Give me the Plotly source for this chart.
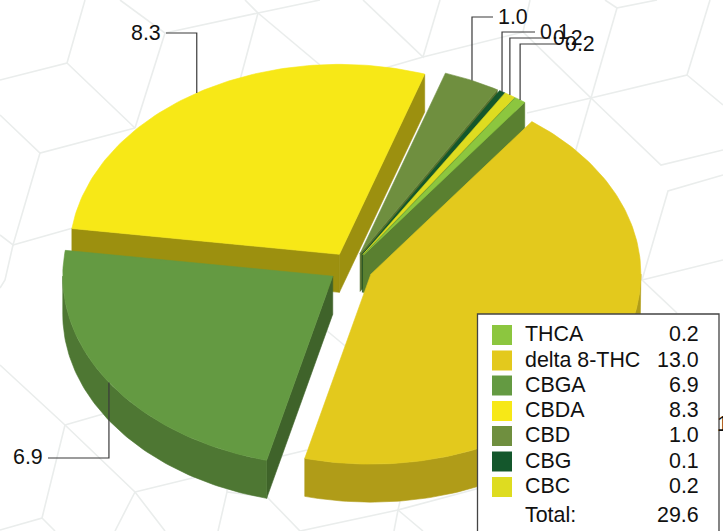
import math
import plotly.graph_objects as go

# ---- data ----
names = ["THCA", "delta 8-THC", "CBGA", "CBDA", "CBD", "CBG", "CBC"]
values = [0.2, 13.0, 6.9, 8.3, 1.0, 0.1, 0.2]
total_label = 29.6
value_labels = ["0.2", "13.0", "6.9", "8.3", "1.0", "0.1", "0.2"]

top_colors = ["#8CC63F", "#E3C91D", "#649A42", "#F7E817", "#6F8F3F", "#14572C", "#DEDC20"]
side_colors = ["#5A8030", "#B09C18", "#4E7733", "#9C900F", "#5A7030", "#0F4020", "#9C9A16"]
cut_colors = ["#5A8030", "#B09C18", "#3F632A", "#9C900F", "#56702E", "#0F4020", "#5A8030"]

W, H = 723, 531
CX, CY = 351.0, 267.5
RX, RY = 270.0, 190.0
DEPTH = 38.0
EXPLODE = 22.0
START = 53.4   # ellipse angle where delta 8-THC starts, going clockwise

# ---- geometry derived from the values ----
sweep_total = sum(values)
walk = [1, 2, 3, 4, 5, 6, 0]
slices = {}
a = START
for i in walk:
    s = values[i] / sweep_total * 360.0
    hi, lo = a, a - s
    mid = (hi + lo) / 2
    mr = math.radians(mid)
    ox = CX + EXPLODE * math.cos(mr)
    oy = CY - EXPLODE * 0.7037 * math.sin(mr)
    slices[i] = (lo, hi, mid, ox, oy)
    a = lo


def pt(ox, oy, t, dz=0.0):
    r = math.radians(t)
    return ox + RX * math.cos(r), oy - RY * math.sin(r) + dz


def arc(ox, oy, t0, t1, dz=0.0, step=1.0):
    n = max(2, int(abs(t1 - t0) / step) + 1)
    return [pt(ox, oy, t0 + (t1 - t0) * k / (n - 1), dz) for k in range(n)]


fig = go.Figure()


def poly(points, color, line=None, name=None):
    xs = [p[0] for p in points] + [points[0][0]]
    ys = [p[1] for p in points] + [points[0][1]]
    fig.add_trace(go.Scatter(
        x=xs, y=ys, mode="lines", fill="toself", fillcolor=color,
        line=dict(color=line or color, width=0.6),
        hoverinfo="skip" if name is None else "text", text=name, showlegend=False))


# background lattice (decorative)
bg_segments = [
    [(85, 0), (67, 63), (0, 80)], [(67, 63), (135, 128), (40, 153), (0, 115)],
    [(135, 128), (165, 33), (120, 0)], [(165, 33), (258, 13), (245, 0)],
    [(258, 13), (240, 80)], [(258, 13), (320, 65)], [(258, 13), (320, 0)],
    [(40, 153), (13, 245), (0, 235)], [(13, 245), (80, 226)], [(13, 245), (5, 280), (0, 288)],
    [(0, 365), (65, 425), (135, 492), (165, 531)], [(65, 425), (110, 412)],
    [(65, 425), (42, 518), (0, 530)], [(42, 518), (55, 531)],
    [(135, 492), (115, 531)], [(135, 492), (307, 450)],
    [(227, 470), (227, 492), (218, 531)], [(227, 492), (267, 497), (300, 531)],
    [(363, 0), (423, 57), (440, 0)], [(423, 57), (385, 68)], [(423, 57), (523, 32), (530, 0)],
    [(523, 32), (591, 98), (617, 8), (657, 0)], [(617, 8), (605, 0)],
    [(591, 98), (687, 75), (710, 0)], [(687, 75), (723, 105)],
    [(591, 98), (527, 113)], [(591, 98), (570, 170)],
    [(591, 98), (661, 165), (723, 150)],
    [(723, 175), (668, 191), (642, 280), (723, 260)], [(642, 280), (677, 313)],
    [(320, 325), (350, 350)],
    [(480, 488), (398, 510), (394, 531)], [(398, 510), (405, 480)], [(398, 510), (423, 531)],
    [(398, 510), (300, 531)],
]
bx, by = [], []
for seg in bg_segments:
    for p in seg:
        bx.append(p[0]); by.append(p[1])
    bx.append(None); by.append(None)
fig.add_trace(go.Scatter(x=bx, y=by, mode="lines", line=dict(color="#EAEDEC", width=1.6),
                         hoverinfo="skip", showlegend=False))

# painter's order: back slices first
draw_order = [4, 5, 6, 0, 3, 1, 2]
for i in draw_order:
    lo, hi, mid, ox, oy = slices[i]
    ap = (ox, oy)
    def radial(t):
        e = pt(ox, oy, t)
        return [ap, e, (e[0], e[1] + DEPTH), (ap[0], ap[1] + DEPTH)]
    # lower-angle edge faces the viewer when it points up and to the right
    if math.sin(math.radians(lo)) > 0 and math.cos(math.radians(lo)) > 0:
        poly(radial(lo), cut_colors[i])
    # upper-angle edge faces the viewer when it points to the left
    if math.cos(math.radians(hi)) < 0:
        poly(radial(hi), cut_colors[i])
    ra, rb = max(lo, -180), min(hi, 0)
    if lo < 0 and rb > ra:
        pts = arc(ox, oy, ra, rb) + arc(ox, oy, rb, ra, DEPTH)
        poly(pts, side_colors[i])
    poly([ap] + arc(ox, oy, lo, hi), top_colors[i], name=f"{names[i]}: {value_labels[i]}")

annotations = []


def label(x, y, text, size=21.4, anchor="left", color="#111111"):
    annotations.append(dict(x=x, y=y, xref="x", yref="y", text=text, showarrow=False,
                            xanchor=anchor, yanchor="middle",
                            font=dict(family="Liberation Sans, Arial", size=size, color=color),
                            borderpad=0, borderwidth=0))


leader_layout = {
    3: dict(elbow_y=33, end_x=166, txt_x=161, anchor="right"),
    4: dict(elbow_y=17, end_x=493, txt_x=498, anchor="left"),
    5: dict(elbow_y=32, end_x=535, txt_x=540, anchor="left"),
    6: dict(elbow_y=38, end_x=550, txt_x=553, anchor="left"),
    0: dict(elbow_y=44, end_x=560, txt_x=565, anchor="left"),
}
lead_x, lead_y = [], []
for i, cfg in leader_layout.items():
    lo, hi, mid, ox, oy = slices[i]
    px, py = pt(ox, oy, mid)
    lead_x += [cfg["end_x"], px, px, None]
    lead_y += [cfg["elbow_y"], cfg["elbow_y"], py, None]
    label(cfg["txt_x"], cfg["elbow_y"], value_labels[i], anchor=cfg["anchor"])
lo, hi, mid, ox, oy = slices[2]
px, py = pt(ox, oy, mid)
lead_x += [48, px, px, None]
lead_y += [458, 458, py, None]
label(43, 457, value_labels[2], anchor="right")
fig.add_trace(go.Scatter(x=lead_x, y=lead_y, mode="lines", line=dict(color="#3A3A3A", width=1.2),
                         hoverinfo="skip", showlegend=False))

label(717, 424, value_labels[1], anchor="left")

LEFT, TOP, RIGHT = 477.5, 314, 719
fig.add_trace(go.Scatter(
    x=[LEFT, LEFT, RIGHT, RIGHT], y=[H + 5, TOP, TOP, H + 5], mode="lines", fill="toself",
    fillcolor="#FFFFFF", line=dict(color="#444444", width=1.3), hoverinfo="skip", showlegend=False))

rows_y = [335, 360.5, 385.5, 411, 436, 461.5, 487]
shapes = []
for k, (n, v, c, y) in enumerate(zip(names, value_labels, top_colors, rows_y)):
    shapes.append(dict(type="rect", xref="x", yref="y", x0=492, x1=512, y0=y - 10, y1=y + 10,
                       fillcolor=c, line=dict(width=0), layer="above"))
    label(525, y - 1, n)
    label(699, y - 1, v, anchor="right")
label(525, 515, "Total:")
label(699, 515, f"{total_label:.1f}", anchor="right")

fig.update_layout(
    width=W, height=H, autosize=False,
    margin=dict(l=0, r=0, t=0, b=0),
    paper_bgcolor="#FFFFFF", plot_bgcolor="#FFFFFF",
    showlegend=False, shapes=shapes, annotations=annotations,
    xaxis=dict(range=[0, W], visible=False, fixedrange=True),
    yaxis=dict(range=[H, 0], visible=False, fixedrange=True),
)
fig.write_html("out.html", config=dict(displayModeBar=False),
               post_script="document.body.style.margin='0';document.documentElement.style.overflow='hidden';")
